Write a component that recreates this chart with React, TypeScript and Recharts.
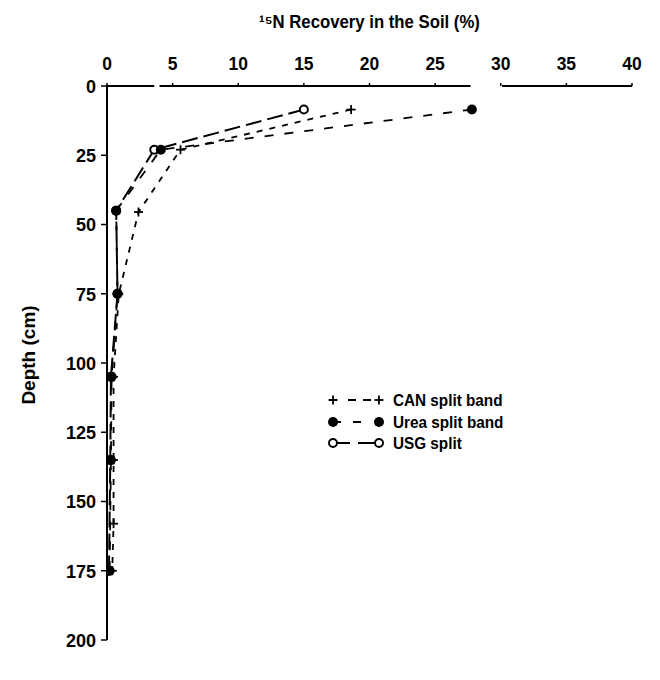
import React from 'react';
import { ScatterChart, Scatter, XAxis, YAxis, ReferenceLine } from 'recharts';

const xTicks = [0, 5, 10, 15, 20, 25, 30, 35, 40];
const yTicks = [0, 25, 50, 75, 100, 125, 150, 175, 200];

const canDepth = [8.5, 23, 45.5, 75, 105, 135, 158, 175];
const canRecovery = [18.6, 5.6, 2.4, 0.9, 0.5, 0.5, 0.5, 0.4];

const ureaDepth = [8.5, 23, 45, 75, 105, 135, 175];
const ureaRecovery = [27.8, 4.1, 0.7, 0.8, 0.35, 0.3, 0.2];

const usgDepth = [8.5, 23, 45, 75, 105, 135, 175];
const usgRecovery = [15.0, 3.6, 0.7, 0.8, 0.3, 0.25, 0.15];

const axisBreaks = [
  [0, 3.6],
  [4.0, 27.7],
  [30.1, 40],
];

const seriesNames = ['CAN split band', 'Urea split band', 'USG split'];

const FONT = "'Liberation Sans', Arial, sans-serif";

const toPoints = (xs: number[], ds: number[]) => xs.map((x, i) => ({ x, depth: ds[i] }));

const canData = toPoints(canRecovery, canDepth);
const ureaData = toPoints(ureaRecovery, ureaDepth);
const usgData = toPoints(usgRecovery, usgDepth);

const PlusShape = (p: any) => (
  <g>
    <line x1={p.cx - 4.5} y1={p.cy} x2={p.cx + 4.5} y2={p.cy} stroke="#000" strokeWidth={1.8} />
    <line x1={p.cx} y1={p.cy - 4.5} x2={p.cx} y2={p.cy + 4.5} stroke="#000" strokeWidth={1.8} />
  </g>
);
const DotShape = (p: any) => <circle cx={p.cx} cy={p.cy} r={5} fill="#000" />;
const RingShape = (p: any) => <circle cx={p.cx} cy={p.cy} r={4} fill="#fff" stroke="#000" strokeWidth={2} />;

const dashes = ['6 7', '9 11', '16 6'];

const Seg = ({ a, b, y }: { a: number; b: number; y: number }) => (
  <line x1={a} y1={y} x2={b} y2={y} stroke="#000" strokeWidth={2} />
);

const LegendBox = () => {
  const ys = [10, 32, 53];
  return (
    <svg width={200} height={66} style={{ position: 'absolute', left: 317, top: 382, overflow: 'visible' }}>
      <g transform="translate(8,0)">
        <Seg a={-4} b={4} y={ys[0]} />
        <Seg a={15} b={23} y={ys[0]} />
        <Seg a={30} b={38} y={ys[0]} />
        <PlusShape cx={0} cy={ys[0]} />
        <PlusShape cx={46} cy={ys[0]} />

        <Seg a={0} b={8} y={ys[1]} />
        <Seg a={20} b={28} y={ys[1]} />
        <DotShape cx={0} cy={ys[1]} />
        <DotShape cx={46} cy={ys[1]} />

        <Seg a={3} b={17} y={ys[2]} />
        <Seg a={25} b={43} y={ys[2]} />
        <RingShape cx={0} cy={ys[2]} />
        <RingShape cx={46} cy={ys[2]} />
      </g>
      {seriesNames.map((n, i) => (
        <text key={n} transform={`translate(68,${ys[i]}) scale(0.9,1)`} dy="0.36em"
          fontFamily={FONT} fontWeight="bold" fontSize={17} fill="#000">
          {n}
        </text>
      ))}
    </svg>
  );
};

const DepthLabel = (props: any) => {
  const vb = props.viewBox || { x: 0, y: 78, width: 99, height: 554 };
  const cx = 20;
  const cy = vb.y + vb.height / 2 - 8;
  return (
    <text x={cx} y={cy} transform={`rotate(-90 ${cx} ${cy})`} textAnchor="middle" dy="0.36em"
      fontFamily={FONT} fontWeight="bold" fontSize={19} fill="#000">
      Depth (cm)
    </text>
  );
};

const TitleLabel = (props: any) => {
  const vb = props.viewBox || { x: 99, y: 0, width: 525, height: 78 };
  const cx = vb.x + vb.width / 2;
  return (
    <text transform={`translate(${cx},14) scale(0.93,1)`} textAnchor="middle" dy="0.36em"
      fontFamily={FONT} fontWeight="bold" fontSize={18} fill="#000">
      ¹⁵N Recovery in the Soil (%)
    </text>
  );
};

const XTick = (p: any) => (
  <text transform={`translate(${p.x},${p.y}) scale(0.92,1)`} textAnchor="middle"
    fontFamily={FONT} fontWeight="bold" fontSize={19} fill="#000">
    {p.payload.value}
  </text>
);

const YTick = (p: any) => (
  <text transform={`translate(${p.x},${p.y}) scale(0.95,1)`} textAnchor="end" dy="0.36em"
    fontFamily={FONT} fontWeight="bold" fontSize={19} fill="#000">
    {p.payload.value}
  </text>
);

export default function App() {
  return (
    <div style={{ position: 'relative', width: 652, height: 672, background: '#fff' }}>
      <ScatterChart width={652} height={672} margin={{ top: 0, right: 28, bottom: 40, left: 0 }}>
        <XAxis
          type="number"
          dataKey="x"
          orientation="top"
          domain={[0, 40]}
          ticks={xTicks}
          interval={0}
          height={78}
          axisLine={false}
          tickSize={3}
          tickMargin={13}
          tickLine={{ stroke: '#000', strokeWidth: 1.5 }}
          tick={<XTick />}
          allowDataOverflow
          label={<TitleLabel />}
        />
        <YAxis
          type="number"
          dataKey="depth"
          reversed
          domain={[0, 200]}
          ticks={yTicks}
          interval={0}
          width={99}
          axisLine={{ stroke: '#000', strokeWidth: 2 }}
          tickSize={6}
          tickMargin={5}
          tickLine={{ stroke: '#000', strokeWidth: 1.5 }}
          tick={<YTick />}
          label={<DepthLabel />}
        />
        {axisBreaks.map((b, i) => (
          <ReferenceLine
            key={i}
            segment={[{ x: b[0], y: 0 }, { x: b[1], y: 0 }]}
            stroke="#000"
            strokeWidth={2}
            ifOverflow="visible"
          />
        ))}
        <Scatter name={seriesNames[0]} data={canData} isAnimationActive={false} shape={PlusShape}
          line={{ stroke: '#000', strokeWidth: 1.8, strokeDasharray: dashes[0] }} lineType="joint" />
        <Scatter name={seriesNames[2]} data={usgData} isAnimationActive={false} shape={RingShape}
          line={{ stroke: '#000', strokeWidth: 2, strokeDasharray: dashes[2] }} lineType="joint" />
        <Scatter name={seriesNames[1]} data={ureaData} isAnimationActive={false} shape={DotShape}
          line={{ stroke: '#000', strokeWidth: 1.8, strokeDasharray: dashes[1] }} lineType="joint" />
      </ScatterChart>
      <LegendBox />
    </div>
  );
}
